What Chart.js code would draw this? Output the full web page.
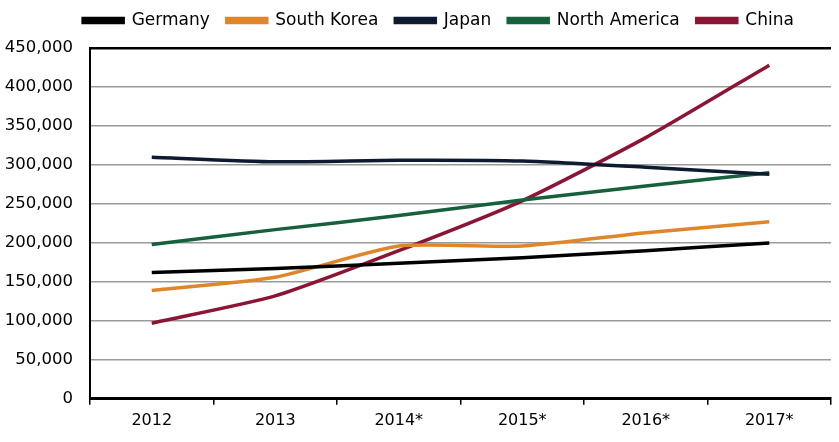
<!DOCTYPE html>
<html>
<head>
<meta charset="utf-8">
<script src="https://cdn.jsdelivr.net/npm/chart.js@4.4.1/dist/chart.umd.min.js"></script>
<style>
  html, body { margin: 0; padding: 0; background: #fff; }
  #wrap { width: 839px; height: 442px; }
</style>
</head>
<body>
<div id="wrap"><canvas id="chart" width="839" height="442"></canvas></div>
<script>
// categories and series
const years = ['2012', '2013', '2014*', '2015*', '2016*', '2017*'];
const germany = [162000, 167000, 174000, 181000, 190000, 200000];
const southKorea = [139000, 156000, 196000, 196000, 213000, 227000];
const japan = [310000, 304000, 306000, 305000, 297000, 288000];
const northAmerica = [198000, 217000, 235000, 255000, 273000, 290000];
const china = [97000, 132000, 190000, 254000, 335000, 428000];

const yMax = 450000;
const yStep = 50000;

function line(label, data, color) {
    return {
        label,
        data,
        borderColor: color,
        backgroundColor: color,
        borderWidth: 3.5,
        pointRadius: 0,
        tension: 0.2,
        fill: false
    };
}

// nudge the legend a bit right and up, like the original
const legendShift = {
    id: 'legendShift',
    afterLayout(chart) {
        const lg = chart.legend;
        if (!lg) return;
        lg.left += 21; lg.right += 21;
        lg.top -= 9; lg.bottom -= 9;
    }
};

new Chart(document.getElementById('chart'), {
    type: 'line',
    data: {
        labels: years,
        datasets: [
            line('Germany', germany, '#000000'),
            line('South Korea', southKorea, '#e0862a'),
            line('Japan', japan, '#0d1a30'),
            line('North America', northAmerica, '#17603c'),
            line('China', china, '#8c1434')
        ]
    },
    plugins: [legendShift],
    options: {
        responsive: false,
        animation: false,
        layout: { padding: { left: 4, right: 8, top: 4, bottom: 6 } },
        plugins: {
            legend: {
                position: 'top',
                labels: {
                    color: '#000',
                    font: { family: 'DejaVu Sans', size: 17 },
                    boxWidth: 40,
                    boxHeight: 4,
                    padding: 17
                }
            },
            tooltip: { enabled: false }
        },
        scales: {
            x: {
                offset: true,
                grid: {
                    display: true,
                    offset: true,
                    drawOnChartArea: false,
                    drawTicks: true,
                    tickLength: 6,
                    color: '#000',
                    lineWidth: 1.5
                },
                border: { display: true, color: '#000', width: 3 },
                ticks: {
                    color: '#000',
                    font: { family: 'DejaVu Sans', size: 16 },
                    padding: 6
                }
            },
            y: {
                min: 0,
                max: yMax,
                afterFit: s => { s.width = 86; },
                grid: {
                    drawTicks: false,
                    color: ctx => ctx.tick && ctx.tick.value === yMax ? '#000' : '#9a9a9a',
                    lineWidth: ctx => ctx.tick && ctx.tick.value === yMax ? 2.5 : 1.5
                },
                border: { display: true, color: '#000', width: 2 },
                ticks: {
                    stepSize: yStep,
                    color: '#000',
                    padding: 17,
                    font: { family: 'DejaVu Sans', size: 16.5 },
                    callback: v => v.toLocaleString('en-US')
                }
            }
        }
    }
});
</script>
</body>
</html>
